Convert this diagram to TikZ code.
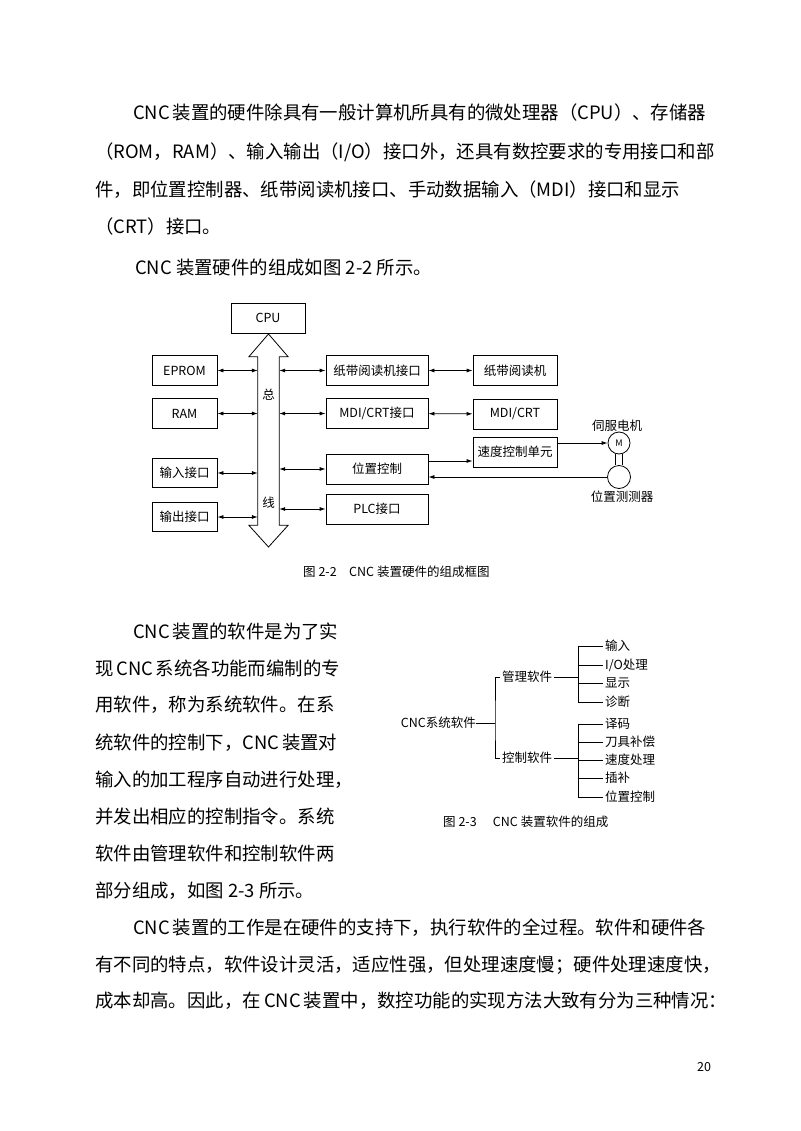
\documentclass[tikz,border=0pt]{standalone}
\usepackage{fontspec}
\setmainfont{Noto Sans CJK SC}
\usepackage{tikz}
\usetikzlibrary{positioning}
\usetikzlibrary{arrows.meta}
\XeTeXlinebreaklocale "zh"
\XeTeXlinebreakskip=0pt plus 4pt minus 2pt
\newcommand{\jline}[2]{\hbox to #1{#2}}

\begin{document}
\begin{tikzpicture}[x=1pt,y=-1pt]
\tikzstyle{block}=[rectangle, draw=black, line width=0.8pt, inner sep=0pt, font=\fontsize{12.5}{12.5}\selectfont]
\tikzstyle{leftbox}=[block, minimum width=65, minimum height=29.5]
\tikzstyle{rightbox}=[block, minimum width=102, minimum height=30]
\tikzstyle{outbox}=[block, minimum width=84, minimum height=30]
\tikzstyle{body}=[anchor=west, inner sep=0pt, font=\fontsize{18.4}{18.4}\selectfont]
\tikzstyle{small}=[inner sep=0pt, font=\fontsize{12.5}{12.5}\selectfont]
\tikzstyle{leaf}=[anchor=west, inner sep=2pt, font=\fontsize{12.5}{12.5}\selectfont]
\tikzstyle{connect}=[{Latex[length=6pt,width=4pt]}-{Latex[length=6pt,width=4pt]}, line width=0.8pt]
\tikzstyle{oneway}=[-{Latex[length=6pt,width=4pt]}, line width=0.8pt]
\tikzstyle{wire}=[line width=0.8pt]
\useasboundingbox[fill=white] (0,0) rectangle (800,1131);

	\node[body] (p1a) at (133,113) {\jline{563pt}{CNC 装置的硬件除具有一般计算机所具有的微处理器（CPU）、存储器}};
	\node[body] (p1b) at (95,152) {\jline{605pt}{（ROM，RAM）、输入输出（I/O）接口外，还具有数控要求的专用接口和部}};
	\node[body] (p1c) at (95,190) {\jline{582pt}{件，即位置控制器、纸带阅读机接口、手动数据输入（MDI）接口和显示}};
	\node[body] (p1d) at (95,227) {（CRT）接口。};
	\node[body] (p2a) at (135,268) {CNC 装置硬件的组成如图 2-2 所示。};

	\node[block, minimum width=74, minimum height=30] (cpu) at (268,318) {CPU};
	\node[leftbox] (eprom) at (184.5,370.5) {EPROM};
	\node[leftbox] (ram) at (184.5,413.5) {RAM};
	\node[leftbox] (inport) at (184.5,473) {输入接口};
	\node[leftbox] (outport) at (184.5,517) {输出接口};
	\node[rightbox] (tapeif) at (377,370.5) {纸带阅读机接口};
	\node[rightbox] (mdiif) at (377,413.5) {MDI/CRT接口};
	\node[rightbox] (posctl) at (377,469) {位置控制};
	\node[rightbox] (plcif) at (377,509) {PLC接口};
	\node[outbox] (tape) at (515,370.5) {纸带阅读机};
	\node[outbox] (mdi) at (515,414) {MDI/CRT};
	\node[outbox] (speed) at (515,452) {速度控制单元};
	\node[circle, draw, line width=0.8pt, minimum size=22, inner sep=0pt, font=\fontsize{9}{9}\selectfont] (motor) at (619,443) {M};
	\node[circle, draw, line width=0.8pt, minimum size=23, inner sep=0pt] (sensor) at (619,477) {};
	\node[small] (motorlbl) at (617,426) {伺服电机};
	\node[small] (sensorlbl) at (622,497) {位置测测器};

	\node[minimum width=21, minimum height=168, inner sep=0pt] (bus) at (268.5,441) {};
	\draw[wire] (bus.north west) -- ++(-9,0) -- (268.5,334) -- ([xshift=9pt]bus.north east) -- (bus.north east)
		-- (bus.south east) -- ([xshift=9pt]bus.south east) -- (268.5,547) -- ([xshift=-9pt]bus.south west) -- (bus.south west) -- cycle;
	\node[small] (zong) at (268.5,395) {总};
	\node[small] (xian) at (268.5,503) {线};

	\coordinate (pc) at ([yshift=8pt]posctl.east);
	\path
		(eprom) edge [connect] (eprom -| bus.west)
		(ram) edge [connect] (ram -| bus.west)
		(inport) edge [connect] (inport -| bus.west)
		(outport) edge [connect] (outport -| bus.west)
		(tapeif -| bus.east) edge [connect] (tapeif)
		(mdiif -| bus.east) edge [connect] (mdiif)
		(posctl -| bus.east) edge [connect] (posctl)
		(plcif -| bus.east) edge [connect] (plcif)
		(tapeif) edge [connect] (tape)
		(mdiif) edge [connect] (mdi)
		(pc) edge [oneway] (pc -| speed.west)
		(speed.east |- motor.west) edge [oneway] (motor.west)
		(sensor.west) edge [oneway] (sensor.west -| posctl.east);
	\draw[wire] ([xshift=-3.5pt]motor.south) -- ([xshift=-3.5pt]sensor.north);
	\draw[wire] ([xshift=3.5pt]motor.south) -- ([xshift=3.5pt]sensor.north);

	\node[small, anchor=west] (cap1) at (303,572) {图 2-2\hspace{1em}CNC 装置硬件的组成框图};

	\node[body] (p3a) at (133,631) {\jline{205pt}{CNC 装置的软件是为了实}};
	\node[body] (p3b) at (95,668.1) {\jline{242pt}{现 CNC 系统各功能而编制的专}};
	\node[body] (p3c) at (95,705.2) {\jline{242pt}{用软件，称为系统软件。在系}};
	\node[body] (p3d) at (95,742.3) {\jline{242pt}{统软件的控制下，CNC 装置对}};
	\node[body] (p3e) at (95,779.4) {输入的加工程序自动进行处理，};
	\node[body] (p3f) at (95,816.5) {\jline{242pt}{并发出相应的控制指令。系统}};
	\node[body] (p3g) at (95,853.6) {\jline{242pt}{软件由管理软件和控制软件两}};
	\node[body] (p3h) at (95,890.7) {部分组成，如图 2-3 所示。};

	\node[small, anchor=east] (root) at (476,723) {CNC系统软件};
	\node[leaf] (mgmt) at (500,677) {管理软件};
	\node[leaf] (ctrl) at (500,758) {控制软件};
	\node[leaf] (input) at (603,646) {输入};
	\node[leaf] (iop) at (603,665) {I/O处理};
	\node[leaf] (disp) at (603,683) {显示};
	\node[leaf] (diag) at (603,702) {诊断};
	\node[leaf] (decode) at (603,724) {译码};
	\node[leaf] (toolc) at (603,742) {刀具补偿};
	\node[leaf] (speedp) at (603,760) {速度处理};
	\node[leaf] (interp) at (603,778) {插补};
	\node[leaf] (posc) at (603,797) {位置控制};
	\coordinate (j0) at (495,723);
	\coordinate (j1) at (578,677);
	\coordinate (j2) at (578,758);
	\draw[wire] (root.east) -- (j0);
	\draw[wire] (mgmt.west) -| (j0) |- (ctrl.west);
	\draw[wire] (mgmt.east) -- (j1);
	\draw[wire] (ctrl.east) -- (j2);
	\draw[wire] (input.west) -| (j1 |- diag.west) -- (diag.west);
	\draw[wire] (decode.west) -| (j2 |- posc.west) -- (posc.west);
	\path
		(iop.west -| j1) edge [wire] (iop.west)
		(disp.west -| j1) edge [wire] (disp.west)
		(toolc.west -| j2) edge [wire] (toolc.west)
		(speedp.west -| j2) edge [wire] (speedp.west)
		(interp.west -| j2) edge [wire] (interp.west);

	\node[small, anchor=west] (cap2) at (443,822) {图 2-3\hspace{1.3em}CNC 装置软件的组成};

	\node[body] (p4a) at (133,928) {\jline{567pt}{CNC 装置的工作是在硬件的支持下，执行软件的全过程。软件和硬件各}};
	\node[body] (p4b) at (95,965) {\jline{632pt}{有不同的特点，软件设计灵活，适应性强，但处理速度慢；硬件处理速度快，}};
	\node[body] (p4c) at (95,1001) {\jline{632pt}{成本却高。因此，在 CNC 装置中，数控功能的实现方法大致有分为三种情况：}};

	\node[small, anchor=west] (pageno) at (697,1067) {20};
\end{tikzpicture}
\end{document}
